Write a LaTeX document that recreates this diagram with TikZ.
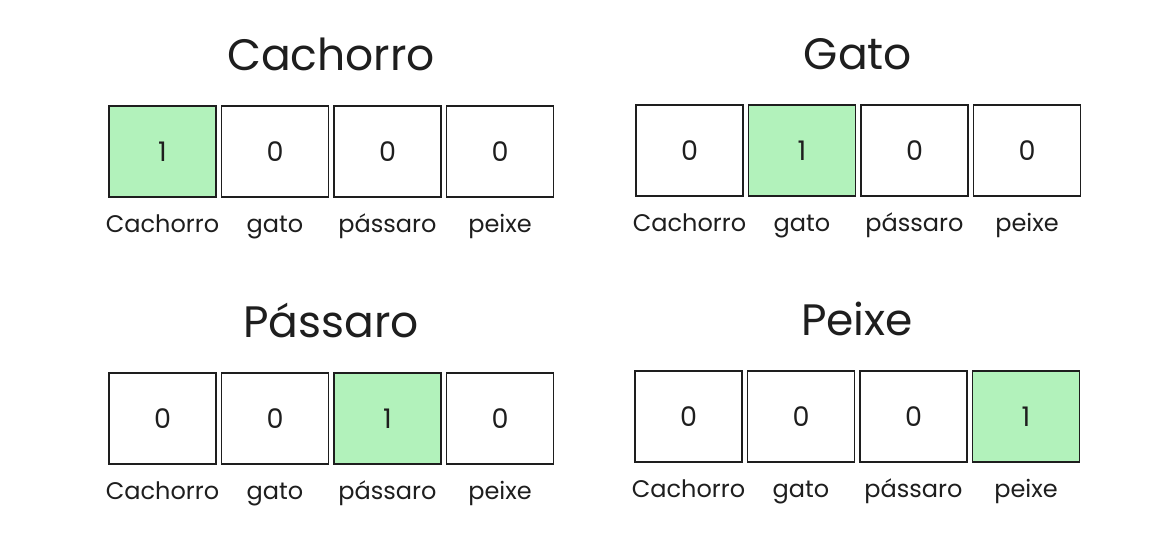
\documentclass[tikz,border=0pt]{standalone}
\usepackage{fontspec}
\setmainfont{Poppins}
\definecolor{ink}{HTML}{1E1E1E}
\definecolor{hotgreen}{HTML}{B2F2BB}
\tikzset{
  cell/.style={draw=ink, line width=1.1pt, minimum width=107pt, minimum height=91pt, inner sep=0pt,
    text=ink, font=\fontsize{27}{27}\selectfont},
  lab/.style={text=ink, inner sep=0pt, anchor=base, font=\fontsize{24}{24}\selectfont},
  ttl/.style={text=ink, inner sep=0pt, anchor=base, font=\fontsize{44}{44}\selectfont},
}
\begin{document}
\begin{tikzpicture}[x=1pt,y=-1pt]
\useasboundingbox (0,0) rectangle (1166,544);
\fill[white] (0,0) rectangle (1166,544);
\foreach \g/\gx/\gy/\title/\hot in {a/109/106/Cachorro/1, b/636/105/Gato/2, c/109/373/Pássaro/3, d/635/371/Peixe/4}{
  \node[ttl] (\g t) at (\gx+222, \gy-36) {\title};
  \foreach \i/\w in {1/Cachorro,2/gato,3/pássaro,4/peixe}{
    \pgfmathsetmacro\cx{\gx+53.5+(\i-1)*112.5}
    \ifnum\i=\hot \def\fc{hotgreen}\def\dg{1}\else\def\fc{white}\def\dg{0}\fi
    \node[cell, fill=\fc] (\g\i) at (\cx, \gy+45.5) {\dg};
    \node[lab] (\g l\i) at (\cx, \gy+126) {\w};
  }
}
\end{tikzpicture}
\end{document}
